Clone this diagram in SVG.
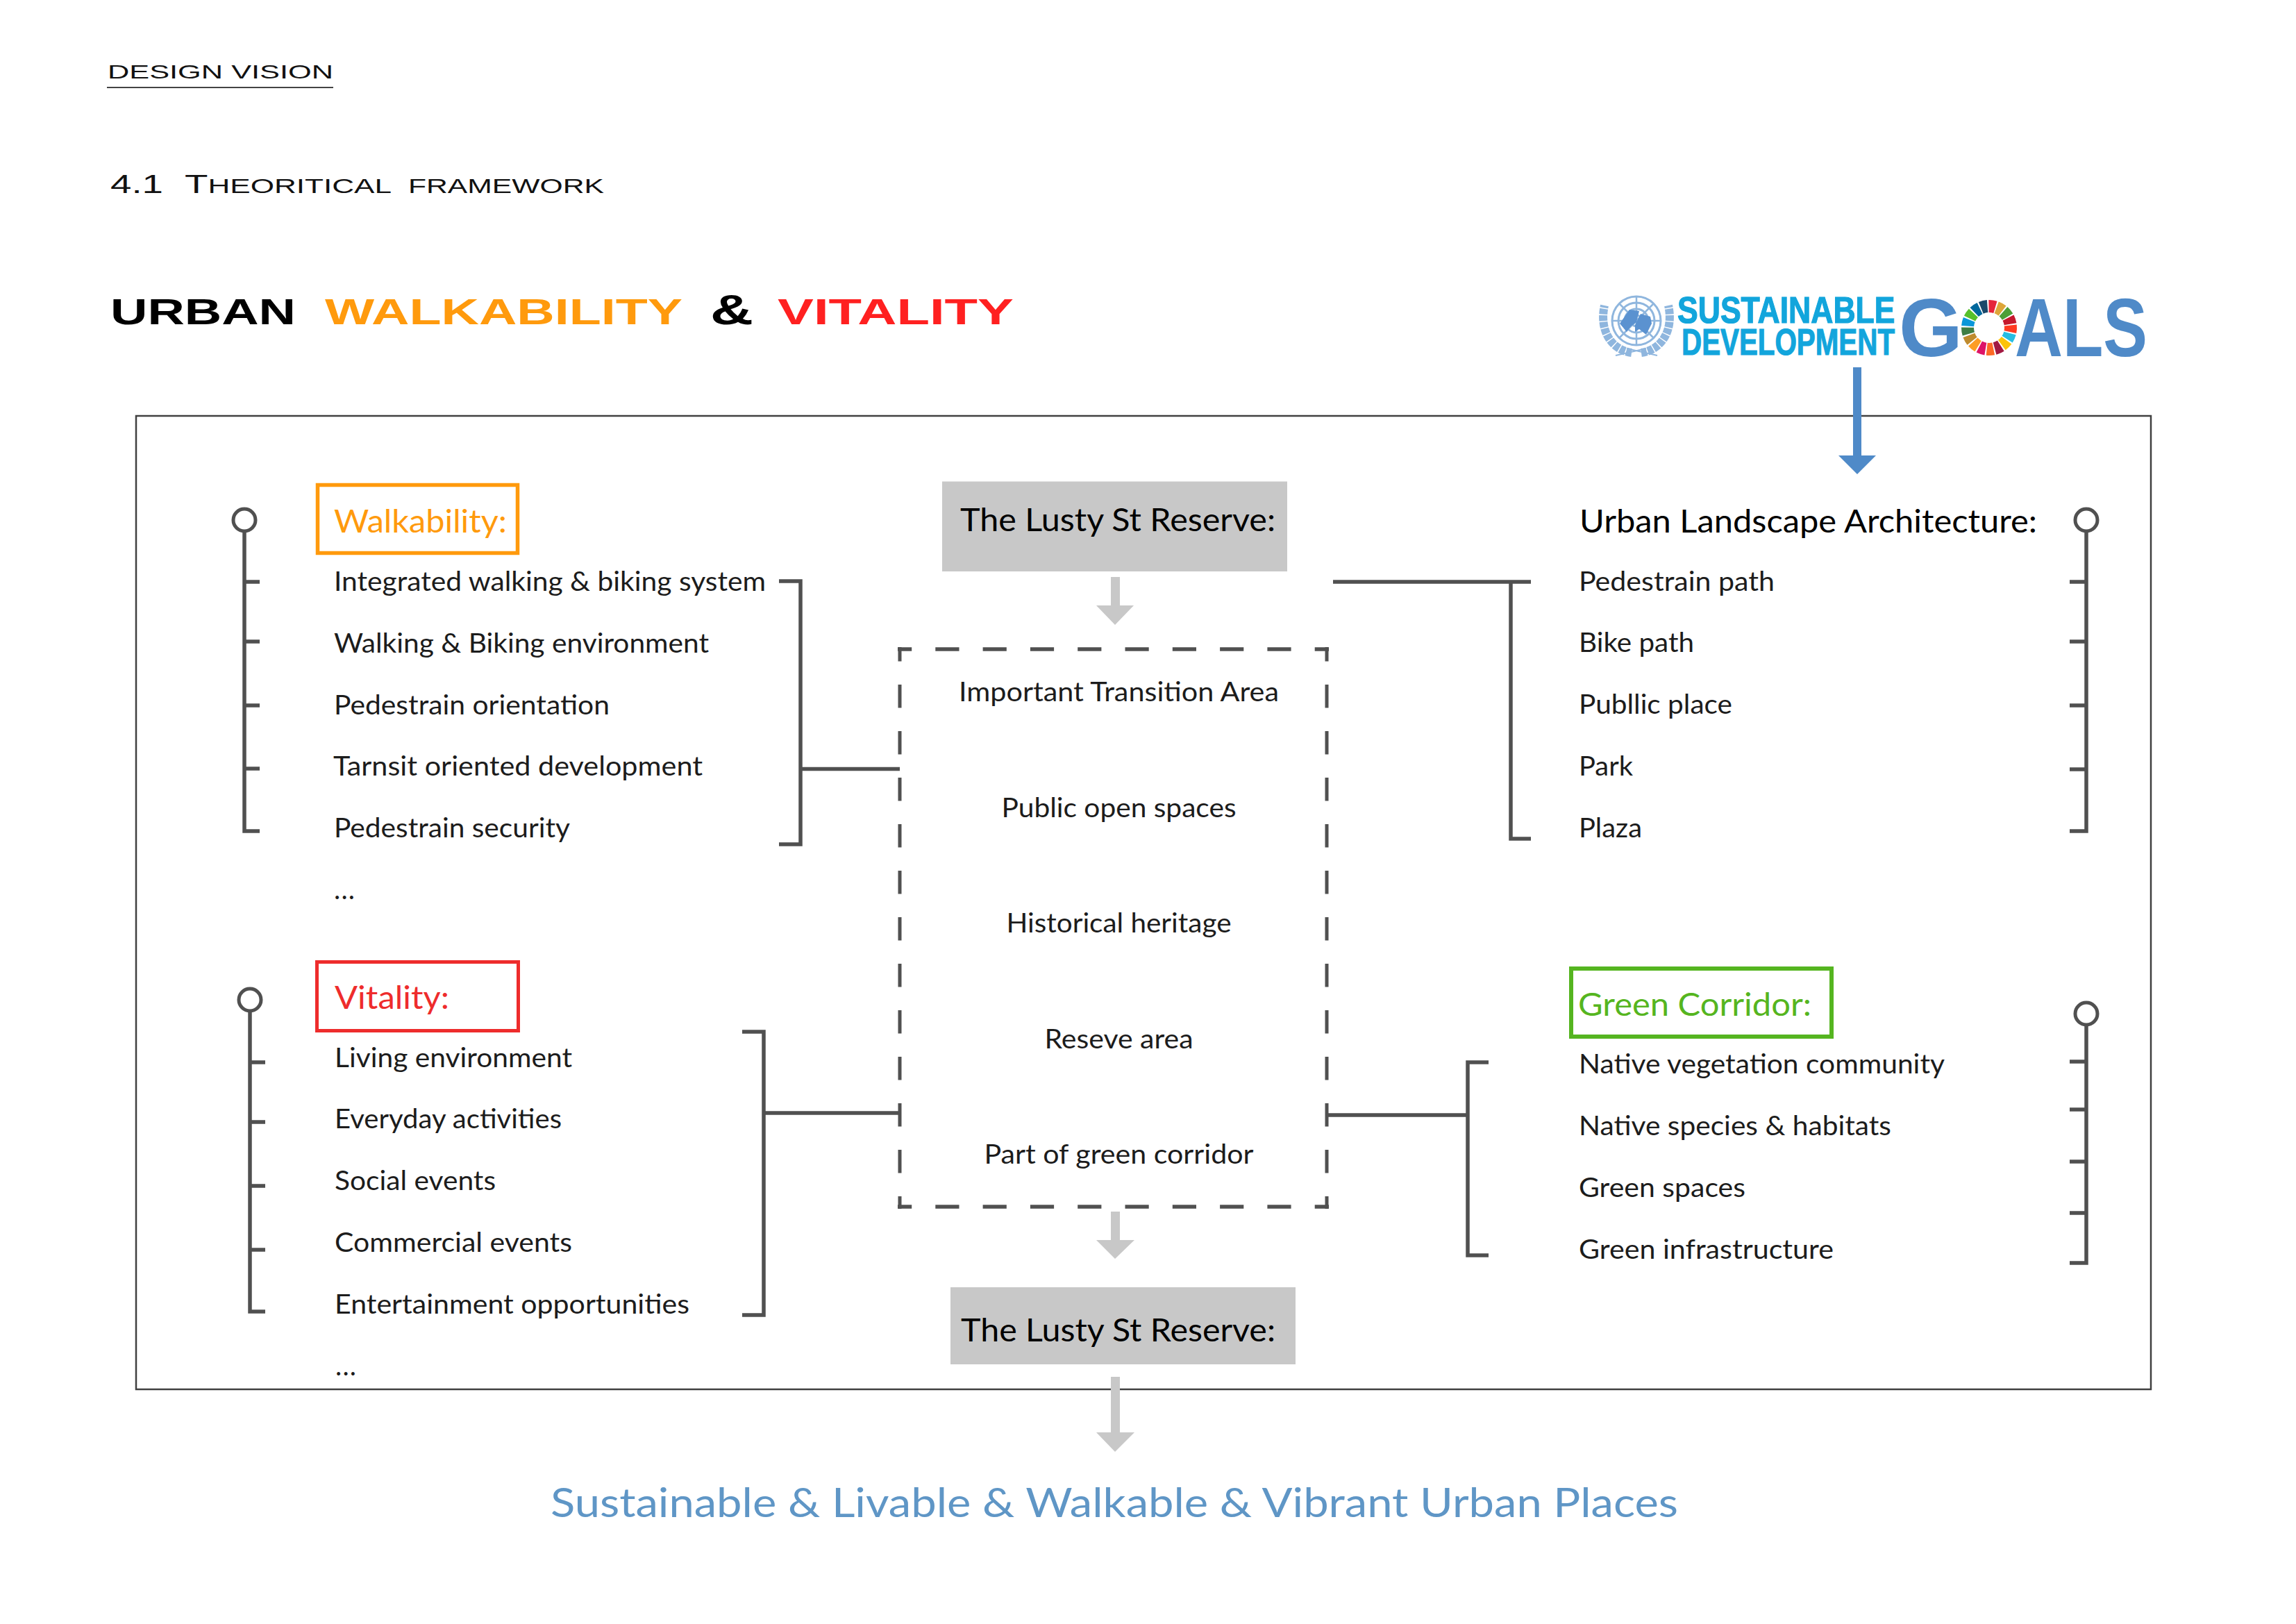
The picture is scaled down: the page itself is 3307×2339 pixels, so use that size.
<svg xmlns="http://www.w3.org/2000/svg" width="3307" height="2339" viewBox="0 0 3307 2339">
<style>
text{font-family:"Lato","Carlito","Liberation Sans",sans-serif;white-space:pre}
.i{font-size:39px;fill:#1c1c1c}
.h{font-size:46px;fill:#000}
.t{font-family:"Liberation Sans",Arial,sans-serif}
.l{fill:none;stroke:#505050;stroke-width:5.5}
.c{fill:#fff;stroke:#505050;stroke-width:5}
.dh{fill:none;stroke:#505050;stroke-width:5.5;stroke-dasharray:34.2 34.1;stroke-dashoffset:14}
.dv{fill:none;stroke:#505050;stroke-width:5;stroke-dasharray:33.5 33.5;stroke-dashoffset:13}
.g{fill:#c8c8c8}
.b{fill:#4f8ac8}
.w{fill:none;stroke-width:18;stroke-dasharray:9.6 185.2}
.e{fill:none;stroke:#8fb6de}
</style>
<rect width="3307" height="2339" fill="#fff"/>
<g id="page-heading">
<text class="t" x="155" y="113" font-size="28" textLength="325" lengthAdjust="spacingAndGlyphs" fill="#111">DESIGN VISION</text>
<line x1="154" y1="126" x2="480" y2="126" stroke="#444" stroke-width="2"/>
<text class="t" x="159" y="278" font-size="36" textLength="76" lengthAdjust="spacingAndGlyphs" fill="#111">4.1</text>
<text class="t" x="266" y="278" font-size="36" textLength="298" lengthAdjust="spacingAndGlyphs" fill="#111">T<tspan font-size="29">HEORITICAL</tspan></text>
<text class="t" x="588" y="278" font-size="29" textLength="282" lengthAdjust="spacingAndGlyphs" fill="#111">FRAMEWORK</text>
</g>
<g id="title" class="t" font-weight="700" font-size="52">
<text class="t" x="159" y="467" textLength="267" lengthAdjust="spacingAndGlyphs" fill="#000">URBAN</text>
<text class="t" x="468" y="467" textLength="515" lengthAdjust="spacingAndGlyphs" fill="#ff9a0d">WALKABILITY</text>
<text class="t" x="1023" y="467" font-size="62" textLength="62" lengthAdjust="spacingAndGlyphs" fill="#000">&amp;</text>
<text class="t" x="1120" y="467" textLength="340" lengthAdjust="spacingAndGlyphs" fill="#ff2020">VITALITY</text>
</g>
<g id="sdg-logo">
<g id="un-emblem" transform="translate(2357 462)">
<path class="e" stroke-width="12" stroke-dasharray="8 1.500" d="M-7 46C-36 42-54 14-46-22M7 46C36 42 54 14 46-22"/>
<path class="e" stroke-width="2" d="M-30 50L14 40M30 50L-14 40"/>
<circle class="e" r="35" stroke-width="3"/><circle class="e" r="26" stroke-width="3"/><circle class="e" r="17" stroke-width="3"/><circle class="e" r="8" stroke-width="3"/>
<path class="e" stroke-width="2.500" d="M-35 0H35M0-35V35M-25-25L25 25M25-25L-25 25"/>
<path fill="#5b92d0" d="M-24 4L-10-16L4-14L0 2L-8 8L-14 16ZM6-10L20-6L22 4L14 20L4 12L-2 16L-2 6Z"/>
</g>
<text class="t" transform="translate(2416 465) scale(.825 1)" font-size="54" font-weight="700" fill="#12a5dc" stroke="#12a5dc" stroke-width="1.200">SUSTAINABLE</text>
<text class="t" transform="translate(2422 511) scale(.747 1)" font-size="54" font-weight="700" fill="#12a5dc" stroke="#12a5dc" stroke-width="1.200">DEVELOPMENT</text>
<text class="t" y="513" font-size="118" font-weight="700" fill="#4f8ac8"><tspan x="2735">G</tspan><tspan x="2828" font-size="95" fill="none">O</tspan><tspan x="2902" textLength="191" lengthAdjust="spacingAndGlyphs">ALS</tspan></text>
<g id="sdg-wheel" transform="translate(2865 472) rotate(-91)">
<circle class="w" r="31" stroke="#E5243B"/>
<circle class="w" r="31" stroke="#DDA63A" transform="rotate(21.18)"/>
<circle class="w" r="31" stroke="#4C9F38" transform="rotate(42.35)"/>
<circle class="w" r="31" stroke="#C5192D" transform="rotate(63.53)"/>
<circle class="w" r="31" stroke="#FF3A21" transform="rotate(84.71)"/>
<circle class="w" r="31" stroke="#26BDE2" transform="rotate(105.88)"/>
<circle class="w" r="31" stroke="#FCC30B" transform="rotate(127.06)"/>
<circle class="w" r="31" stroke="#A21942" transform="rotate(148.24)"/>
<circle class="w" r="31" stroke="#FD6925" transform="rotate(169.41)"/>
<circle class="w" r="31" stroke="#DD1367" transform="rotate(190.59)"/>
<circle class="w" r="31" stroke="#FD9D24" transform="rotate(211.76)"/>
<circle class="w" r="31" stroke="#BF8B2E" transform="rotate(232.94)"/>
<circle class="w" r="31" stroke="#3F7E44" transform="rotate(254.12)"/>
<circle class="w" r="31" stroke="#0A97D9" transform="rotate(275.29)"/>
<circle class="w" r="31" stroke="#56C02B" transform="rotate(296.47)"/>
<circle class="w" r="31" stroke="#00689D" transform="rotate(317.65)"/>
<circle class="w" r="31" stroke="#19486A" transform="rotate(338.82)"/>
</g>
</g>
<g id="frame"><rect x="196" y="599" width="2902" height="1402" fill="none" stroke="#404040" stroke-width="2.500"/></g>
<g id="connectors">
<path class="b" d="M2669 529H2681V656H2702L2675 683L2648 656H2669Z"/>
<path class="g" d="M1600 831H1613V872H1633L1606 900L1579 872H1600Z"/>
<path class="g" d="M1600 1745H1613V1786H1634L1606 1813L1579 1786H1600Z"/>
<path class="g" d="M1600 1983H1613V2063H1634L1606 2091L1579 2063H1600Z"/>
<path class="l" d="M352 767V1197H374M352 838H374M352 924H374M352 1016H374M352 1107H374"/>
<circle class="c" cx="352" cy="749" r="16"/>
<path class="l" d="M360 1458V1889H382M360 1530H382M360 1616H382M360 1708H382M360 1800H382"/>
<circle class="c" cx="360" cy="1440" r="16"/>
<path class="l" d="M3005 767V1197H2981M3005 838H2981M3005 924H2981M3005 1016H2981M3005 1108H2981"/>
<circle class="c" cx="3005" cy="749" r="16"/>
<path class="l" d="M3005 1478V1819H2981M3005 1529H2981M3005 1598H2981M3005 1673H2981M3005 1747H2981"/>
<circle class="c" cx="3005" cy="1460" r="16"/>
<path class="l" d="M1122 837H1153V1216H1122M1153 1107.500H1296"/>
<path class="l" d="M1069 1486H1100V1894H1069M1100 1603H1296"/>
<path class="l" d="M1920 838H2205M2176 838V1208H2205"/>
<path class="l" d="M2144 1530H2114V1808H2144M2114 1606H1911"/>
<g id="dashed-box">
<path class="dh" d="M1293 935H1914M1293 1738H1914"/>
<path class="dv" d="M1296 932V1741M1911 932V1741"/>
</g>
</g>
<g id="walkability">
<rect x="457.500" y="698.500" width="288" height="98" fill="none" stroke="#ff9a0d" stroke-width="5.500"/>
<text class="h" x="481" y="767" textLength="249" lengthAdjust="spacingAndGlyphs" style="fill:#ff9a0d">Walkability:</text>
<text class="i" x="481" y="851" textLength="622" lengthAdjust="spacingAndGlyphs">Integrated walking &amp; biking system</text>
<text class="i" x="481" y="940" textLength="540" lengthAdjust="spacingAndGlyphs">Walking &amp; Biking environment</text>
<text class="i" x="481" y="1029" textLength="397" lengthAdjust="spacingAndGlyphs">Pedestrain orientation</text>
<text class="i" x="480" y="1117" textLength="532" lengthAdjust="spacingAndGlyphs">Tarnsit oriented development</text>
<text class="i" x="481" y="1206" textLength="340" lengthAdjust="spacingAndGlyphs">Pedestrain security</text>
<text class="i" x="481" y="1295" textLength="30" lengthAdjust="spacing">...</text>
</g>
<g id="vitality">
<rect x="456.500" y="1385.500" width="290" height="99" fill="none" stroke="#ee2c2c" stroke-width="5"/>
<text class="h" x="482" y="1453" textLength="165" lengthAdjust="spacingAndGlyphs" style="fill:#ee2c2c">Vitality:</text>
<text class="i" x="482" y="1537" textLength="342" lengthAdjust="spacingAndGlyphs">Living environment</text>
<text class="i" x="482" y="1625" textLength="327" lengthAdjust="spacingAndGlyphs">Everyday activities</text>
<text class="i" x="482" y="1714" textLength="232" lengthAdjust="spacingAndGlyphs">Social events</text>
<text class="i" x="482" y="1803" textLength="342" lengthAdjust="spacingAndGlyphs">Commercial events</text>
<text class="i" x="482" y="1892" textLength="511" lengthAdjust="spacingAndGlyphs">Entertainment opportunities</text>
<text class="i" x="483" y="1981" textLength="30" lengthAdjust="spacing">...</text>
</g>
<g id="reserve-top">
<rect class="g" x="1357" y="693.500" width="497" height="129.500"/>
<text class="h" x="1383" y="765" textLength="454" lengthAdjust="spacingAndGlyphs">The Lusty St Reserve:</text>
</g>
<g id="reserve-items" text-anchor="middle">
<text class="i" x="1611.500" y="1010" text-anchor="middle" textLength="461" lengthAdjust="spacingAndGlyphs">Important Transition Area</text>
<text class="i" x="1611.500" y="1177" text-anchor="middle" textLength="338" lengthAdjust="spacingAndGlyphs">Public open spaces</text>
<text class="i" x="1611.500" y="1343" text-anchor="middle" textLength="324" lengthAdjust="spacingAndGlyphs">Historical heritage</text>
<text class="i" x="1611.500" y="1510" text-anchor="middle" textLength="214" lengthAdjust="spacingAndGlyphs">Reseve area</text>
<text class="i" x="1611.500" y="1676" text-anchor="middle" textLength="388" lengthAdjust="spacingAndGlyphs">Part of green corridor</text>
</g>
<g id="reserve-bottom">
<rect class="g" x="1369" y="1854" width="497" height="111"/>
<text class="h" x="1384" y="1932" textLength="453" lengthAdjust="spacingAndGlyphs">The Lusty St Reserve:</text>
</g>
<g id="urban-landscape">
<text class="h" x="2275" y="767" textLength="659" lengthAdjust="spacingAndGlyphs">Urban Landscape Architecture:</text>
<text class="i" x="2274" y="851" textLength="282" lengthAdjust="spacingAndGlyphs">Pedestrain path</text>
<text class="i" x="2274" y="939" textLength="166" lengthAdjust="spacingAndGlyphs">Bike path</text>
<text class="i" x="2274" y="1028" textLength="221" lengthAdjust="spacingAndGlyphs">Publlic place</text>
<text class="i" x="2274" y="1117" textLength="78" lengthAdjust="spacingAndGlyphs">Park</text>
<text class="i" x="2274" y="1206" textLength="91" lengthAdjust="spacingAndGlyphs">Plaza</text>
</g>
<g id="green-corridor">
<rect x="2263" y="1395" width="375" height="98" fill="none" stroke="#55b520" stroke-width="6"/>
<text class="h" x="2273" y="1463" textLength="336" lengthAdjust="spacingAndGlyphs" style="fill:#55b520">Green Corridor:</text>
<text class="i" x="2274" y="1546" textLength="527" lengthAdjust="spacingAndGlyphs">Native vegetation community</text>
<text class="i" x="2274" y="1635" textLength="450" lengthAdjust="spacingAndGlyphs">Native species &amp; habitats</text>
<text class="i" x="2274" y="1724" textLength="240" lengthAdjust="spacingAndGlyphs">Green spaces</text>
<text class="i" x="2274" y="1813" textLength="367" lengthAdjust="spacingAndGlyphs">Green infrastructure</text>
</g>
<g id="outcome">
<text x="793" y="2185" font-size="59" fill="#5f96c6" textLength="1624" lengthAdjust="spacingAndGlyphs">Sustainable &amp; Livable &amp; Walkable &amp; Vibrant Urban Places</text>
</g>
</svg>
